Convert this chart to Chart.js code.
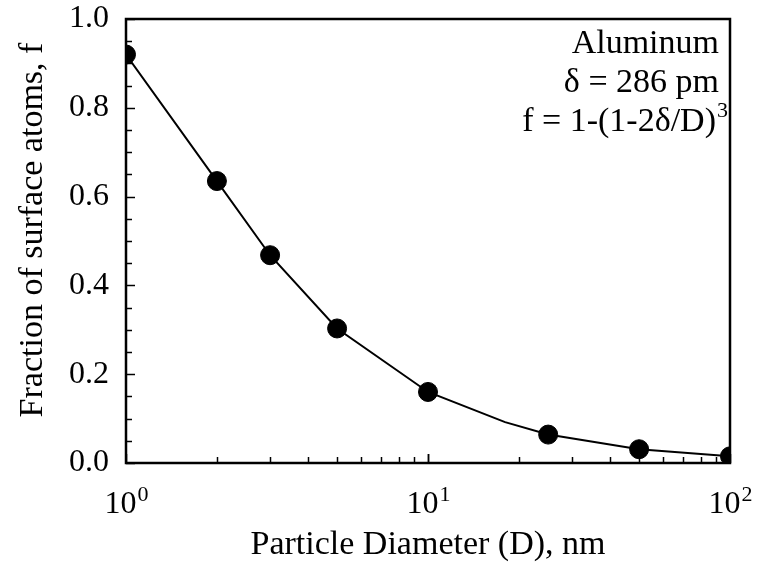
<!DOCTYPE html>
<html>
<head>
<meta charset="utf-8">
<script src="https://cdn.jsdelivr.net/npm/chart.js@4"></script>
<style>
  html, body { margin: 0; padding: 0; background: #fff; }
  #wrap { width: 760px; height: 563px; }
</style>
</head>
<body>
<div id="wrap"><canvas id="c" width="760" height="563"></canvas></div>
<script>
// ====================
// data
// ====================
const diameters = [1, 2, 3, 5, 10, 25, 50, 100];
const fractions = [0.92, 0.635, 0.468, 0.303, 0.16, 0.064, 0.031, 0.015];

// curve through the points (one extra bend near D~18)
const curveD = [1, 2, 3, 5, 10, 18, 25, 50, 100];
const curveF = [0.92, 0.635, 0.468, 0.303, 0.16, 0.092, 0.064, 0.031, 0.015];

const xMajor = [1, 10, 100];
const xLabelExp = ["0", "1", "2"];
const yTicks = [0, 0.2, 0.4, 0.6, 0.8, 1.0];

const FONT = "'Liberation Serif', 'DejaVu Serif', serif";

// ====================
// inward ticks, frame, labels
// ====================
const decor = {
    id: "decor",
    afterDraw(chart) {
        const ctx = chart.ctx;
        const a = chart.chartArea;
        const xs = chart.scales.x, ys = chart.scales.y;
        ctx.save();
        ctx.strokeStyle = "#000";
        ctx.lineWidth = 2.5;
        ctx.strokeRect(a.left, a.top, a.right - a.left, a.bottom - a.top);

        // x ticks
        ctx.lineWidth = 1.5;
        for (let dec = 1; dec < 100; dec *= 10) {
            for (let k = 1; k <= 10; k++) {
                const v = dec * k;
                const px = Math.round(xs.getPixelForValue(v)) + 0.5;
                const len = (k === 1 || k === 10) ? 9 : 6;
                ctx.beginPath();
                ctx.moveTo(px, a.bottom);
                ctx.lineTo(px, a.bottom - len);
                ctx.stroke();
            }
        }
        // y ticks
        for (let i = 0; i <= 20; i++) {
            const v = i * 0.05;
            const py = Math.round(ys.getPixelForValue(v)) + 0.5;
            const len = (i % 4 === 0) ? 9 : 6;
            ctx.beginPath();
            ctx.moveTo(a.left, py);
            ctx.lineTo(a.left + len, py);
            ctx.stroke();
        }

        // x tick labels 10^n
        ctx.fillStyle = "#000";
        ctx.textBaseline = "alphabetic";
        xMajor.forEach((v, i) => {
            const px = xs.getPixelForValue(v);
            ctx.font = "32px " + FONT;
            const wBase = ctx.measureText("10").width;
            ctx.font = "22px " + FONT;
            const wExp = ctx.measureText(xLabelExp[i]).width;
            const x0 = px - (wBase + wExp) / 2;
            ctx.font = "32px " + FONT;
            ctx.textAlign = "left";
            ctx.fillText("10", x0, 513);
            ctx.font = "22px " + FONT;
            ctx.fillText(xLabelExp[i], x0 + wBase + 1, 501);
        });

        // axis titles
        ctx.font = "34px " + FONT;
        ctx.textAlign = "center";
        ctx.fillText("Particle Diameter (D), nm", (a.left + a.right) / 2, 554);
        ctx.save();
        ctx.translate(42, 230);
        ctx.rotate(-Math.PI / 2);
        ctx.fillText("Fraction of surface atoms, f", 0, 0);
        ctx.restore();

        // annotation
        ctx.textAlign = "right";
        const rx = a.right - 11;
        ctx.fillText("Aluminum", rx, 53);
        ctx.fillText("\u03B4 = 286 pm", rx, 92);
        ctx.fillText("f = 1-(1-2\u03B4/D)", rx - 3, 131);
        ctx.font = "22px " + FONT;
        ctx.textAlign = "left";
        ctx.fillText("3", rx - 2, 117);
        ctx.restore();
    }
};

new Chart(document.getElementById("c"), {
    data: {
        datasets: [
            {
                type: "line",
                data: curveD.map((d, i) => ({ x: d, y: curveF[i] })),
                borderColor: "#000",
                borderWidth: 2,
                pointRadius: 0,
                tension: 0,
                order: 2
            },
            {
                type: "scatter",
                data: diameters.map((d, i) => ({ x: d, y: fractions[i] })),
                backgroundColor: "#000",
                borderColor: "#000",
                pointRadius: 9.5,
                order: 1
            }
        ]
    },
    options: {
        responsive: false,
        animation: false,
        layout: { padding: { top: 19, right: 30, left: 0, bottom: 0 } },
        plugins: {
            legend: { display: false },
            tooltip: { enabled: false }
        },
        scales: {
            x: {
                type: "logarithmic",
                min: 1,
                max: 100,
                grid: { display: false },
                border: { display: false },
                ticks: { display: false },
                afterBuildTicks: s => { s.ticks = xMajor.map(v => ({ value: v })); },
                afterFit: s => {
                    s.height = 100;
                    s.paddingLeft = 0;
                    s.paddingRight = 0;
                }
            },
            y: {
                min: 0,
                max: 1,
                grid: { display: false },
                border: { display: false },
                afterBuildTicks: s => { s.ticks = yTicks.map(v => ({ value: v })); },
                ticks: {
                    color: "#000",
                    padding: 9,
                    font: { family: FONT, size: 32 },
                    callback: v => v.toFixed(1)
                },
                afterFit: s => {
                    s.width = 126;
                    s.paddingTop = 0;
                    s.paddingBottom = 0;
                }
            }
        }
    },
    plugins: [decor]
});
</script>
</body>
</html>
